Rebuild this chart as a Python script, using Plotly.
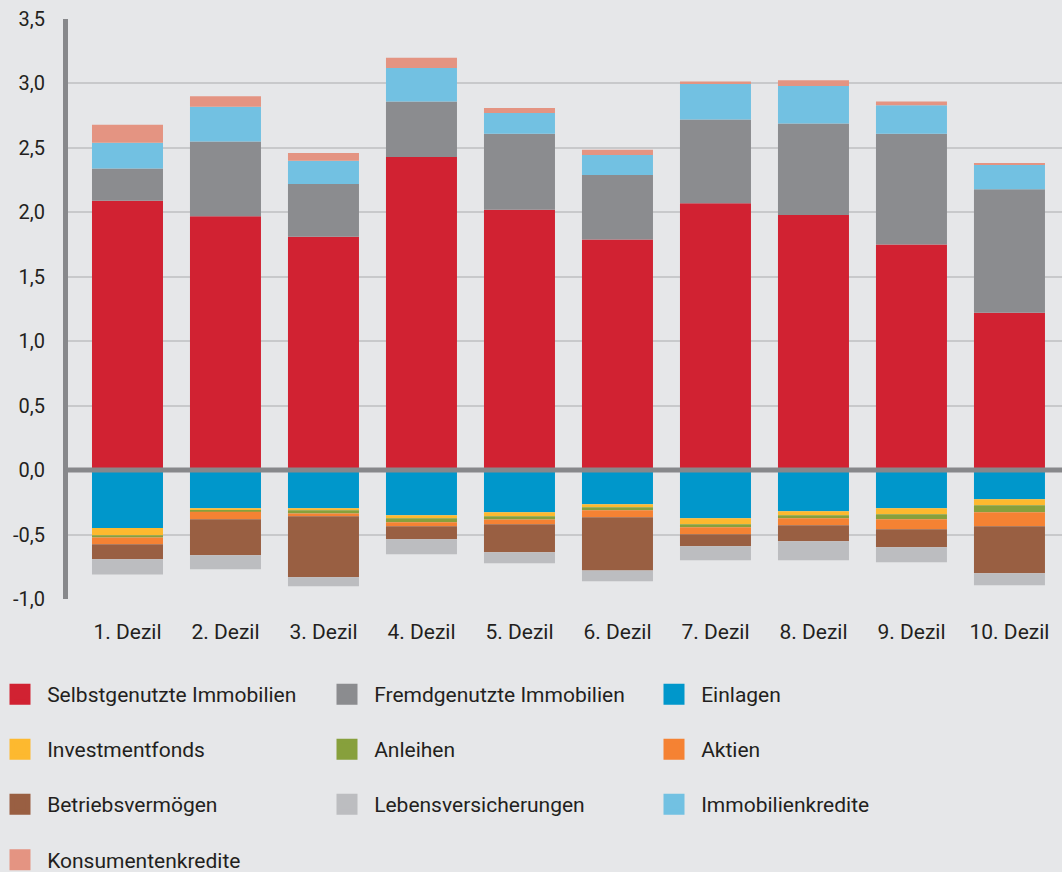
import plotly.graph_objects as go

# Deciles on the category axis
dezile = ["1. Dezil", "2. Dezil", "3. Dezil", "4. Dezil", "5. Dezil",
          "6. Dezil", "7. Dezil", "8. Dezil", "9. Dezil", "10. Dezil"]

# Contributions per asset / debt class (positive above zero, negative below)
selbstgenutzte_immobilien = [2.09, 1.97, 1.81, 2.43, 2.02, 1.79, 2.07, 1.98, 1.75, 1.22]
fremdgenutzte_immobilien = [0.25, 0.58, 0.41, 0.43, 0.59, 0.50, 0.65, 0.71, 0.86, 0.96]
einlagen = [-0.45, -0.295, -0.295, -0.35, -0.327, -0.264, -0.373, -0.319, -0.295, -0.226]
investmentfonds = [-0.055, -0.021, -0.016, -0.023, -0.031, -0.024, -0.047, -0.031, -0.047, -0.046]
anleihen = [-0.018, -0.008, -0.026, -0.031, -0.026, -0.023, -0.023, -0.023, -0.039, -0.055]
aktien = [-0.052, -0.057, -0.021, -0.031, -0.036, -0.054, -0.055, -0.055, -0.078, -0.108]
betriebsvermoegen = [-0.117, -0.28, -0.474, -0.102, -0.218, -0.413, -0.093, -0.124, -0.14, -0.365]
lebensversicherungen = [-0.117, -0.109, -0.07, -0.116, -0.085, -0.085, -0.109, -0.148, -0.116, -0.094]
immobilienkredite = [0.20, 0.27, 0.18, 0.26, 0.16, 0.155, 0.275, 0.29, 0.22, 0.19]
konsumentenkredite = [0.14, 0.08, 0.06, 0.08, 0.04, 0.04, 0.02, 0.045, 0.03, 0.01]

y_ticks = [-1.0, -0.5, 0.0, 0.5, 1.0, 1.5, 2.0, 2.5, 3.0, 3.5]
y_tick_labels = ["-1,0", "-0,5", "0,0", "0,5", "1,0", "1,5", "2,0", "2,5", "3,0", "3,5"]

series = [
    ("Selbstgenutzte Immobilien", selbstgenutzte_immobilien, "#d12232", "legend"),
    ("Fremdgenutzte Immobilien", fremdgenutzte_immobilien, "#8b8c8f", "legend"),
    ("Einlagen", einlagen, "#0097cb", "legend"),
    ("Investmentfonds", investmentfonds, "#fdb92f", "legend2"),
    ("Anleihen", anleihen, "#87a03c", "legend2"),
    ("Aktien", aktien, "#f58233", "legend2"),
    ("Betriebsvermögen", betriebsvermoegen, "#995f42", "legend3"),
    ("Lebensversicherungen", lebensversicherungen, "#bcbdc0", "legend3"),
    ("Immobilienkredite", immobilienkredite, "#72c1e2", "legend3"),
    ("Konsumentenkredite", konsumentenkredite, "#e49482", "legend4"),
]

FONT = "Roboto, 'Open Sans', sans-serif"
TEXT = "#231f20"
BG = "#e6e7e9"

fig = go.Figure()

for name, values, color, _ in series:
    fig.add_trace(go.Bar(
        x=dezile, y=values, name=name, marker=dict(color=color, line=dict(width=0)),
        showlegend=False, hoverinfo="x+y+name",
    ))

# Legend entries with large square swatches
for name, _, color, legend_id in series:
    fig.add_trace(go.Scatter(
        x=[None], y=[None], mode="markers", name="\u2004" + name, legend=legend_id,
        marker=dict(symbol="square", size=16, color=color,
                    line=dict(color=color, width=5)),
        showlegend=True,
    ))

# Plot-area geometry in pixels
W, H = 1062, 872
L, R, T, B = 68, 0, 19, 272.7


def row_y(px):
    return 1 - px / H


legend_common = dict(
    orientation="h", xref="container", x=0, xanchor="left",
    yref="container", yanchor="middle",
    entrywidth=282, entrywidthmode="pixels", bgcolor="rgba(0,0,0,0)",
    font=dict(family=FONT, size=21, color=TEXT), itemclick=False,
    itemdoubleclick=False,
)

fig.update_layout(
    width=W, height=H,
    paper_bgcolor=BG, plot_bgcolor=BG,
    margin=dict(l=L, r=R, t=T, b=B, pad=0),
    barmode="relative", bargap=0.2755,
    font=dict(family=FONT, color=TEXT),
    legend=dict(legend_common, y=row_y(694.5)),
    legend2=dict(legend_common, y=row_y(749.5)),
    legend3=dict(legend_common, y=row_y(804.5)),
    legend4=dict(legend_common, y=row_y(860)),
    xaxis=dict(
        type="category", range=[-0.607, 9.536], showgrid=False, zeroline=False,
        showline=False, ticks="", tickfont=dict(family=FONT, size=21, color=TEXT),
        ticklabelstandoff=18, fixedrange=True, automargin=False,
    ),
    yaxis=dict(
        range=[-1.0, 3.5], tickvals=y_ticks, ticktext=y_tick_labels,
        showgrid=True, gridcolor="#c8c9cb", gridwidth=2, zeroline=False,
        showline=True, linecolor="#87888b", linewidth=5, ticks="",
        tickfont=dict(family=FONT, size=20, color=TEXT), ticklabelstandoff=14,
        fixedrange=True, automargin=False,
    ),
)

# Heavy zero line drawn over the bars
fig.add_shape(type="line", xref="paper", yref="y", x0=-0.004, x1=1, y0=0, y1=0,
              line=dict(color="#87888b", width=5), layer="above")

fig.write_html("out.html")
